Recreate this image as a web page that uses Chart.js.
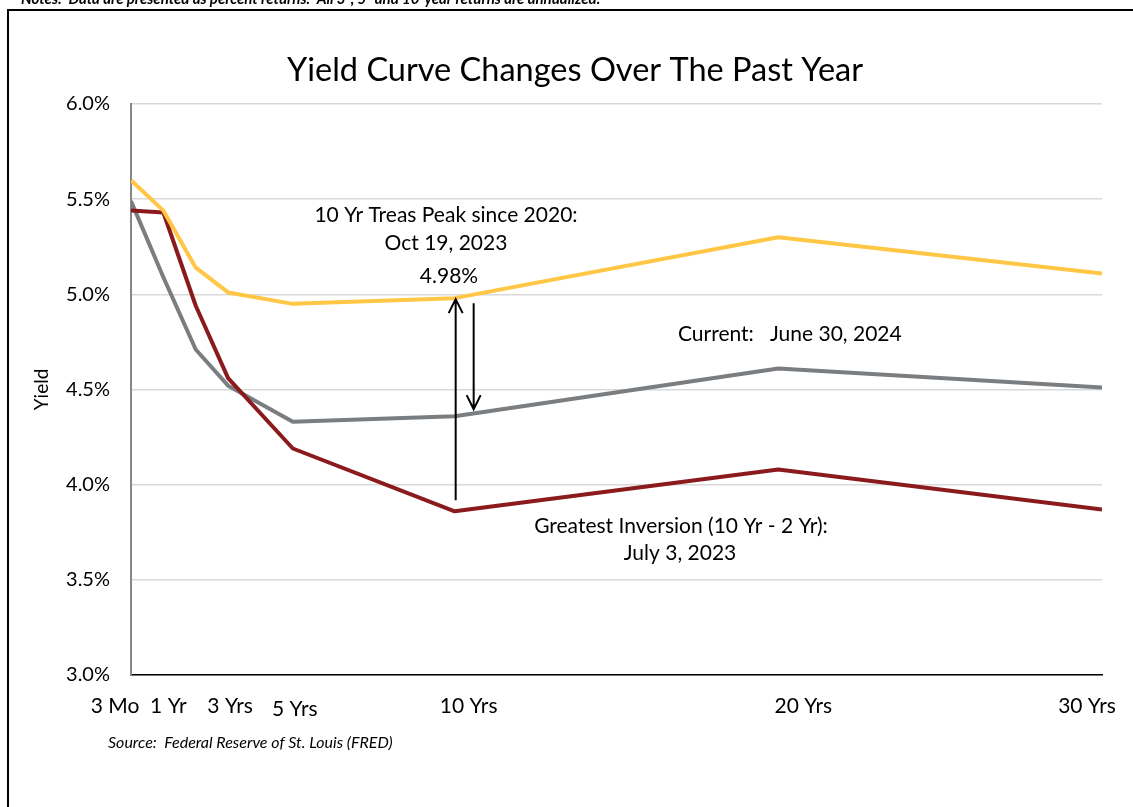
<!DOCTYPE html>
<html>
<head>
<meta charset="utf-8">
<script src="https://cdn.jsdelivr.net/npm/chart.js@4/dist/chart.umd.min.js"></script>
<style>
  html, body { margin: 0; padding: 0; background: #ffffff; }
  canvas { display: block; }
</style>
</head>
<body>
<canvas id="yieldChart" width="1133" height="807"></canvas>
<script>
// Treasury maturities (3 Mo sits at the origin of the maturity axis)
const maturityLabels = ['3 Mo', '1 Yr', '2 Yrs', '3 Yrs', '5 Yrs', '10 Yrs', '20 Yrs', '30 Yrs'];
const maturityYears  = [0, 1, 2, 3, 5, 10, 20, 30];

// Yield curves, percent
const peakOct192023      = [5.60, 5.44, 5.14, 5.01, 4.95, 4.98, 5.30, 5.11];
const inversionJul32023  = [5.44, 5.43, 4.94, 4.56, 4.19, 3.86, 4.08, 3.87];
const currentJun302024   = [5.49, 5.09, 4.71, 4.52, 4.33, 4.36, 4.61, 4.51];

// Axis labelling
const axisTickYears  = [0, 1, 3, 5, 10, 20, 30];
const axisTickLabels = ['3 Mo', '1 Yr', '3 Yrs', '5 Yrs', '10 Yrs', '20 Yrs', '30 Yrs'];
const yieldMin = 3.0, yieldMax = 6.0, yieldStep = 0.5;

const FONT = 'Lato, "Open Sans", "DejaVu Sans", sans-serif';

function toPoints(values) {
  return values.map((v, i) => ({ x: maturityYears[i], y: v }));
}

// Per-label nudges for the maturity labels under the axis
const tickLabelShift = [[-16, 0], [5, 0], [2, 0], [2, 3], [14, 0], [25, 0], [-15, 0]];

function arrow(ctx, x, y1, y2) {
  const dir = y2 < y1 ? -1 : 1;
  ctx.beginPath();
  ctx.moveTo(x, y1);
  ctx.lineTo(x, y2);
  ctx.moveTo(x - 7, y2 - dir * 14);
  ctx.lineTo(x, y2);
  ctx.lineTo(x + 7, y2 - dir * 14);
  ctx.stroke();
}

const decorations = {
  id: 'decorations',
  afterDraw(chart) {
    const ctx = chart.ctx;
    const xs = chart.scales.x, ys = chart.scales.y;
    ctx.save();

    // Page note above the frame
    ctx.fillStyle = '#000';
    ctx.font = 'italic bold 15px ' + FONT;
    ctx.textAlign = 'left';
    ctx.textBaseline = 'alphabetic';
    ctx.fillText('Notes:  Data are presented as percent returns.  All 3-, 5- and 10-year returns are annualized.', 21, 4);

    // Frame
    ctx.strokeStyle = '#000';
    ctx.lineWidth = 2;
    ctx.strokeRect(8, 10, 1150, 820);

    // Maturity labels
    ctx.font = '21px ' + FONT;
    ctx.textAlign = 'center';
    ctx.textBaseline = 'middle';
    axisTickYears.forEach((yr, i) => {
      const px = xs.getPixelForValue(yr) + tickLabelShift[i][0];
      ctx.fillText(axisTickLabels[i], px, 706 + tickLabelShift[i][1]);
    });

    // Source line
    ctx.font = 'italic 16px ' + FONT;
    ctx.textAlign = 'left';
    ctx.fillText('Source:  Federal Reserve of St. Louis (FRED)', 108, 743);

    // Annotations
    ctx.font = '21px ' + FONT;
    ctx.textAlign = 'center';
    ctx.fillText('10 Yr Treas Peak since 2020:', 446, 215);
    ctx.fillText('Oct 19, 2023', 446, 243);
    ctx.fillText(peakOct192023[5].toFixed(2) + '%', 449, 276);
    ctx.textAlign = 'left';
    ctx.fillText('Current:   June 30, 2024', 678, 334);
    ctx.textAlign = 'center';
    ctx.fillText('Greatest Inversion (10 Yr - 2 Yr):', 681, 526);
    ctx.fillText('July 3, 2023', 680, 553);

    // Spread arrows at the 10-year point
    const x10 = xs.getPixelForValue(10);
    const yPeak = ys.getPixelForValue(peakOct192023[5]);
    const yLow = ys.getPixelForValue(inversionJul32023[5]);
    const yNow = ys.getPixelForValue(currentJun302024[5]);
    ctx.strokeStyle = '#000';
    ctx.lineWidth = 2;
    arrow(ctx, x10 + 1, yLow - 11, yPeak + 1);
    arrow(ctx, x10 + 19, yPeak + 5, yNow - 7);

    ctx.restore();
  }
};

new Chart(document.getElementById('yieldChart'), {
  type: 'line',
  data: {
    datasets: [
      { label: 'Oct 19, 2023', data: toPoints(peakOct192023), borderColor: '#FFC745' },
      { label: 'July 3, 2023', data: toPoints(inversionJul32023), borderColor: '#8B1A1D' },
      { label: 'June 30, 2024', data: toPoints(currentJun302024), borderColor: '#7B7E81' }
    ]
  },
  options: {
    responsive: false,
    animation: false,
    devicePixelRatio: 1,
    layout: { padding: { left: 48, right: 31, top: 0, bottom: 0 } },
    elements: {
      line: { borderWidth: 4, tension: 0, borderJoinStyle: 'round', borderCapStyle: 'butt', fill: false },
      point: { radius: 0, hoverRadius: 0 }
    },
    plugins: {
      legend: { display: false },
      tooltip: { enabled: false },
      title: {
        display: true,
        text: 'Yield Curve Changes Over The Past Year',
        color: '#000',
        font: { family: FONT, size: 32.5, weight: 'normal', lineHeight: 1.2 },
        padding: { top: 51, bottom: 14 }
      }
    },
    scales: {
      x: {
        type: 'linear',
        min: 0,
        max: 30,
        grid: { display: false, drawTicks: false },
        border: { display: true, color: '#000000', width: 1.5 },
        ticks: { display: false },
        afterFit(scale) { scale.height = 807 - 675; }
      },
      y: {
        min: yieldMin,
        max: yieldMax,
        grid: { color: '#d9d9d9', lineWidth: 1.5, drawTicks: false },
        border: { display: true, color: '#878787', width: 2 },
        ticks: {
          stepSize: yieldStep,
          padding: 21,
          color: '#000',
          font: { family: FONT, size: 20 },
          callback: v => v.toFixed(1) + '%'
        },
        title: {
          display: true,
          text: 'Yield',
          color: '#000',
          font: { family: FONT, size: 19 },
          padding: { top: -17.4, bottom: 0 }
        },
        afterFit(scale) { scale.width = 131 - 48; }
      }
    }
  },
  plugins: [decorations]
});
</script>
</body>
</html>
